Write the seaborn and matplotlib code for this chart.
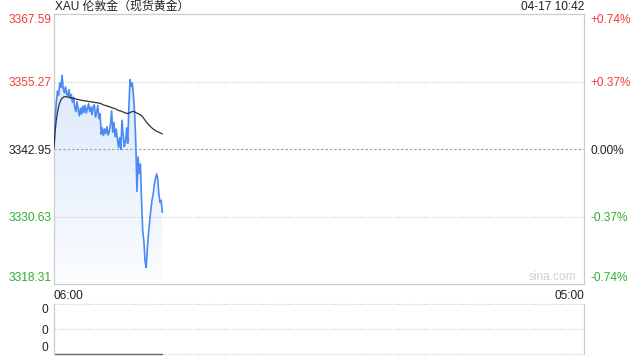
import numpy as np
import pandas as pd
import matplotlib
matplotlib.use("Agg")
import matplotlib.pyplot as plt
import matplotlib.dates as mdates
from matplotlib.colors import LinearSegmentedColormap
from matplotlib.patches import PathPatch
import seaborn as sns

sns.set_theme(style="white")
plt.rcParams["font.family"] = ["Liberation Sans", "Noto Sans CJK SC", "DejaVu Sans"]

title = "XAU 伦敦金（现货黄金）"
stamp = "04-17 10:42"
day_start = "2025-04-17 06:00"
day_end = "2025-04-18 05:00"

# price every 3 minutes from 06:00
price = [
    3343.0, 3348.5, 3351.5, 3353.5, 3352.8, 3355.0, 3354.2, 3356.4, 3354.0, 3353.2,
    3354.3, 3353.0, 3352.6, 3353.8, 3352.2, 3352.9, 3351.5, 3352.4, 3350.6, 3349.8,
    3351.6, 3350.2, 3349.0, 3350.4, 3349.3, 3350.8, 3349.6, 3350.9, 3349.5, 3350.3,
    3351.2, 3349.8, 3350.6, 3349.2, 3350.7, 3351.0, 3348.8, 3349.6, 3350.9, 3348.5,
    3349.4, 3345.6, 3346.8, 3345.4, 3346.6, 3345.8, 3347.0, 3345.5, 3346.2, 3347.4,
    3349.9, 3346.0, 3347.8, 3345.2, 3346.6, 3344.8, 3343.2, 3345.0, 3342.9, 3348.2,
    3345.6, 3343.4, 3344.2, 3346.8, 3344.0, 3350.8, 3355.6, 3354.4, 3355.0, 3352.6,
    3349.5, 3344.0, 3335.2, 3341.5, 3338.5, 3340.2, 3333.5, 3328.0, 3326.2, 3322.5,
    3321.3, 3324.8, 3327.5, 3329.6, 3331.8, 3333.5, 3334.6, 3336.4, 3337.5, 3338.4,
    3337.6, 3334.8, 3333.2, 3333.6, 3331.4,
]
avg = [
    3343.3, 3346.2, 3348.2, 3349.6, 3350.7, 3351.4, 3351.9, 3352.2, 3352.4, 3352.5,
    3352.5, 3352.5, 3352.4, 3352.4, 3352.3, 3352.3, 3352.2, 3352.2, 3352.1, 3352.1,
    3352.0, 3352.0, 3351.9, 3351.9, 3351.8, 3351.8, 3351.8, 3351.7, 3351.7, 3351.7,
    3351.6, 3351.6, 3351.6, 3351.5, 3351.5, 3351.5, 3351.4, 3351.4, 3351.4, 3351.3,
    3351.3, 3351.2, 3351.1, 3351.0, 3350.9, 3350.9, 3350.8, 3350.7, 3350.7, 3350.6,
    3350.5, 3350.4, 3350.4, 3350.3, 3350.2, 3350.1, 3350.0, 3349.9, 3349.9, 3349.8,
    3349.7, 3349.6, 3349.5, 3349.5, 3349.4, 3349.5, 3349.6, 3349.7, 3349.8, 3349.8,
    3349.7, 3349.6, 3349.5, 3349.4, 3349.3, 3349.2, 3349.0, 3348.8, 3348.5, 3348.2,
    3347.9, 3347.7, 3347.4, 3347.2, 3347.0, 3346.8, 3346.6, 3346.5, 3346.3, 3346.2,
    3346.1, 3346.0, 3345.9, 3345.8, 3345.7,
]
volume = [0] * len(price)

y_ticks = [3318.31, 3330.63, 3342.95, 3355.27, 3367.59]
y_labels = ["3318.31", "3330.63", "3342.95", "3355.27", "3367.59"]
pct_labels = ["-0.74%", "-0.37%", "0.00%", "+0.37%", "+0.74%"]
x_labels = ["06:00", "05:00"]
vol_labels = ["0", "0", "0"]

RED = "#f23c3c"
GREEN = "#2eae2e"
DARK = "#222222"
FS = 8.6
tick_colors = [GREEN, GREEN, DARK, RED, RED]

times = pd.date_range(day_start, periods=len(price), freq="3min")
df = pd.DataFrame({"time": times, "price": price, "avg": avg, "volume": volume})
t0, t1 = pd.Timestamp(day_start), pd.Timestamp(day_end)

fig = plt.figure(figsize=(6.4, 3.6), dpi=100)
ax = fig.add_axes([54 / 640, 1 - 284 / 360, 530 / 640, 270 / 360])
vax = fig.add_axes([54 / 640, 1 - 354 / 360, 530 / 640, 50 / 360])

# gradient fill under the price line
ax.set_xlim(t0, t1)
ax.set_ylim(y_ticks[0], y_ticks[-1])
xs = mdates.date2num(df["time"])
fill = ax.fill_between(xs, df["price"], y_ticks[0], color="none", lw=0)
clip = PathPatch(fill.get_paths()[0], transform=ax.transData, facecolor="none", edgecolor="none")
ax.add_patch(clip)
cmap = LinearSegmentedColormap.from_list("fade", ["#fbfdff", "#d3e2fa"])
im = ax.imshow(np.linspace(0, 1, 256).reshape(-1, 1), cmap=cmap, aspect="auto", origin="lower",
               extent=[xs[0], xs[-1], y_ticks[0], y_ticks[-1]], zorder=1)
im.set_clip_path(clip)
ax.set_xlim(t0, t1)
ax.set_ylim(y_ticks[0], y_ticks[-1])

sns.lineplot(data=df, x="time", y="price", ax=ax, color="#4a8af4", lw=1.2, zorder=3)
sns.lineplot(data=df, x="time", y="avg", ax=ax, color="#333333", lw=0.9, zorder=4)

for v in (y_ticks[1], y_ticks[3]):
    ax.axhline(v, color="#c8c8c8", lw=0.8, ls=(0, (1, 1.5)), zorder=2)
ax.axhline(y_ticks[2], color="#9a9a9a", lw=0.8, ls=(0, (2, 2)), zorder=2)

for s in ax.spines.values():
    s.set_color("#cccccc")
    s.set_linewidth(0.9)

ax.set_xlabel("")
ax.set_ylabel("")
ax.set_yticks(y_ticks)
ax.set_yticklabels(y_labels)
ax.tick_params(axis="y", length=0, pad=2, labelsize=FS)
for lab, c in zip(ax.get_yticklabels(), tick_colors):
    lab.set_color(c)
ax.get_yticklabels()[0].set_va("bottom")
ax.get_yticklabels()[-1].set_va("top")

ax.set_xticks([t0, t1])
ax.set_xticklabels(x_labels)
ax.tick_params(axis="x", length=0, pad=4, labelsize=FS, labelcolor=DARK)
ax.get_xticklabels()[0].set_ha("left")
ax.get_xticklabels()[1].set_ha("right")

rax = ax.twinx()
rax.set_ylim(ax.get_ylim())
rax.set_yticks(y_ticks)
rax.set_yticklabels(pct_labels)
rax.tick_params(axis="y", length=0, pad=5, labelsize=FS)
for lab, c in zip(rax.get_yticklabels(), tick_colors):
    lab.set_color(c)
rax.get_yticklabels()[0].set_va("bottom")
rax.get_yticklabels()[-1].set_va("top")
for s in rax.spines.values():
    s.set_visible(False)
rax.grid(False)

ax.text(0.985, 0.005, "sina.com", transform=ax.transAxes, ha="right", va="bottom",
        fontsize=FS, color="#cfcfcf")

# volume panel
sns.lineplot(data=df, x="time", y="volume", ax=vax, color="#666666", lw=1.0, clip_on=False)
vax.set_xlim(t0, t1)
vax.set_ylim(0, 1)
for v in (0, 0.5, 1):
    vax.axhline(v, color="#c8c8c8", lw=0.8, ls=(0, (1, 1.5)), zorder=0, clip_on=False)
vax.set_yticks([0, 0.5, 1])
vax.set_yticklabels(vol_labels)
vax.tick_params(axis="y", length=0, pad=4, labelsize=FS, labelcolor=DARK)
vax.get_yticklabels()[0].set_va("bottom")
vax.get_yticklabels()[-1].set_va("top")
vax.set_xticks([])
vax.set_xlabel("")
vax.set_ylabel("")
vax.spines["top"].set_visible(False)
vax.spines["bottom"].set_visible(False)
for side in ("left", "right"):
    vax.spines[side].set_color("#cccccc")
    vax.spines[side].set_linewidth(0.9)

fig.text(55 / 640, 1 - 7 / 360, title, ha="left", va="center", fontsize=FS, color=DARK)
fig.text(584 / 640, 1 - 7 / 360, stamp, ha="right", va="center", fontsize=FS, color=DARK)

fig.savefig("out.png", dpi=100)
